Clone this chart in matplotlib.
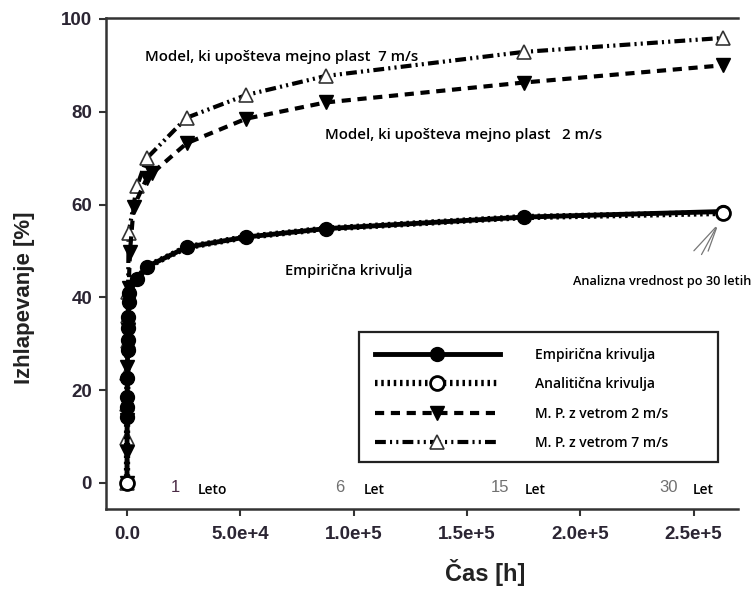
import matplotlib
matplotlib.use("Agg")
import matplotlib.pyplot as plt
from matplotlib.patches import Rectangle
from matplotlib.ticker import FuncFormatter

# ---------------------------------------------------------------- data
# time [h] and evaporation [%]
t_emp = [0, 24, 48, 96, 168, 240, 336, 480, 600, 720, 1000,
         4380, 8760, 26280, 52560, 87600, 175200, 262800]
y_emp = [0, 14.2, 16.4, 18.5, 22.6, 28.7, 30.8, 33.4, 35.8, 39.0, 41.0,
         44.0, 46.6, 50.8, 53.0, 54.8, 57.3, 58.5]

# analytical curve coincides with the empirical one, marked only at ends
t_ana = t_emp
y_ana = y_emp[:-1] + [58.2]

t_2ms = [0, 24, 72, 168, 336, 720, 1300, 2920, 8760, 11000,
         26280, 52560, 87600, 175200, 262800]
y_2ms = [0, 6.7, 13.6, 25.0, 33.0, 42.0, 49.8, 59.5, 65.7, 66.7,
         73.2, 78.5, 82.0, 86.3, 90.0]

t_7ms = [0, 24, 72, 168, 240, 336, 480, 700, 4380, 8760,
         26280, 52560, 87600, 175200, 262800]
y_7ms = [0, 9.7, 17.0, 23.7, 30.5, 36.0, 41.2, 53.9, 63.9, 70.0,
         78.7, 83.6, 87.7, 92.9, 95.9]

labels = ["Empirična krivulja", "Analitična krivulja",
          "M. P. z vetrom 2 m/s", "M. P. z vetrom 7 m/s"]

x_ticks = [0, 5e4, 1e5, 1.5e5, 2e5, 2.5e5]
y_ticks = [0, 20, 40, 60, 80, 100]

# year markers along the bottom: (number, word, x of number, x of word)
years = [("1", "Leto", 21200, 37500),
         ("6", "Let", 94000, 109000),
         ("15", "Let", 164600, 180000),
         ("30", "Let", 239000, 254200)]

# ---------------------------------------------------------------- figure
TXT = "Open Sans"
fig = plt.figure(figsize=(7.54, 6.06), dpi=100)
ax = fig.add_axes([0.1406, 0.1601, 0.8382, 0.8102])

ax.plot(t_7ms, y_7ms, color="black", lw=3,
        linestyle=(0, (2.6, 1.0, 0.5, 1.0, 0.5, 1.0)),
        marker="^", ms=10, mfc="white", mec="#333333", mew=1.2,
        label=labels[3], zorder=2)
ax.plot(t_2ms, y_2ms, color="black", lw=3, linestyle=(0, (2.2, 1.6)),
        marker="v", ms=10, mfc="black", mec="black",
        label=labels[2], zorder=3)
ax.plot(t_emp, y_emp, color="black", lw=3.5, linestyle="-",
        marker="o", ms=10, mfc="black", mec="black",
        label=labels[0], zorder=4)
ax.plot(t_ana, y_ana, color="black", lw=4.5, linestyle=(0, (0.4, 0.6)),
        marker="o", ms=10, mfc="white", mec="black", mew=2,
        markevery=[0, len(t_ana) - 1], label=labels[1], zorder=5)

ax.set_xlim(-9267, 269600)
ax.set_ylim(-5.6, 100.2)
ax.set_xticks(x_ticks)
ax.set_yticks(y_ticks)


def sci(v, pos):
    if v == 0:
        return "0.0"
    exp = len(str(int(v))) - 1
    return f"{v / 10**exp:.1f}e+{exp}"


ax.xaxis.set_major_formatter(FuncFormatter(sci))
for lab in ax.get_xticklabels() + ax.get_yticklabels():
    lab.set_fontfamily("Liberation Sans")
    lab.set_fontweight("bold")
    lab.set_fontsize(13.5)
    lab.set_color("#2b2533")
ax.tick_params(direction="out", length=5, width=1.5, color="#333333")
ax.tick_params(axis="x", pad=7)
ax.tick_params(axis="y", pad=5)

ax.spines["right"].set_visible(False)
for s in ["top", "left", "bottom"]:
    ax.spines[s].set_linewidth(1.8)
    ax.spines[s].set_color("#333333")

# axis labels
fig.text(0.033, 1 - 298 / 606, "Izhlapevanje [%]", rotation=90,
         ha="center", va="center", family="Liberation Sans",
         weight="bold", size=16, color="#222222")
fig.text(485 / 754, 1 - 573 / 606, "Čas [h]", ha="center", va="center",
         family="Liberation Sans", weight="bold", size=17, color="#222222")

# text annotations
ax.text(8000, 91.8, "Model, ki upošteva mejno plast  7 m/s", family=TXT,
        weight="semibold", size=10.8, va="center", ha="left")
ax.text(87300, 75.0, "Model, ki upošteva mejno plast   2 m/s", family=TXT,
        weight="semibold", size=10.8, va="center", ha="left")
ax.text(69700, 45.7, "Empirična krivulja", family=TXT,
        weight="semibold", size=10.5, va="center", ha="left")
ax.text(275500, 43.5, "Analizna vrednost po 30 letih", family=TXT,
        weight="semibold", size=9.2, va="center", ha="right", clip_on=False)

# thin pointer lines to the analytical value after 30 years
for x0, y0 in [(249300, 49.6), (252900, 48.7), (256000, 49.4)]:
    ax.annotate("", xy=(260500, 55.5), xytext=(x0, y0),
                arrowprops=dict(arrowstyle="-", color="#777777", lw=0.9))

for num, word, xn, xw in years:
    ax.text(xn, -1.0, num, family="Liberation Sans", size=12,
            color="#4a2a45" if num == "1" else "#707070",
            ha="center", va="center")
    ax.text(xw, -1.6, word, family=TXT, weight="semibold", size=10,
            ha="center", va="center")

handles, labs = ax.get_legend_handles_labels()
hmap = dict(zip(labs, handles))
leg = ax.legend([hmap[l] for l in labels], labels, loc="upper left",
                bbox_to_anchor=(0.400, 0.3605), borderaxespad=0,
                frameon=False, handlelength=9.0, handletextpad=2.5,
                labelspacing=1.1, borderpad=1.15, numpoints=1,
                prop={"family": TXT, "weight": "semibold", "size": 10})
# legend frame is wider than its content in the original
ax.add_patch(Rectangle((0.400, 0.0957), 0.568, 0.2648,
                       transform=ax.transAxes, fill=False,
                       edgecolor="#222222", lw=1.6, zorder=6))

fig.savefig("out.png", dpi=100)
